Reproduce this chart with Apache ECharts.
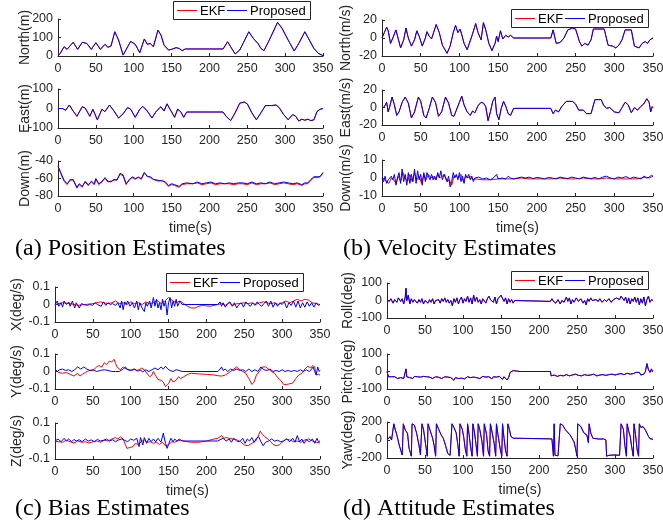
<!DOCTYPE html>
<html>
<head>
<meta charset="utf-8">
<script src="https://cdn.jsdelivr.net/npm/echarts@6/dist/echarts.min.js"></script>
<style>
  html, body { margin: 0; padding: 0; background: #fff; }
  #chart { width: 663px; height: 523px; }
</style>
</head>
<body>
<div id="chart"></div>
<script>
(function() {
  'use strict';

  // === Data: [time(s), value] ===
  var northPos = [[0,0],[3,14],[8,50],[12,36],[20,74],[26,36],[32,74],[38,68],[44,36],[50,72],[56,36],[62,63],[66,47],[70,54],[75,131],[80,86],[86,5],[92,50],[96,79],[102,63],[108,18],[114,92],[118,63],[122,68],[126,50],[132,140],[136,113],[140,59],[146,32],[150,36],[156,45],[160,41],[164,29],[168,38],[218,38],[224,77],[228,50],[234,11],[240,32],[252,131],[258,95],[264,68],[268,41],[272,29],[278,77],[290,182],[296,149],[304,86],[312,27],[318,68],[326,131],[332,86],[338,41],[344,14],[350,2]];
  // EKF and Proposed coincide on this plot
  var northPosEkf = northPos.slice();

  var eastPos = [[0,0],[6,0],[10,-9],[15,18],[20,-13],[25,-40],[32,9],[36,2],[42,-40],[46,-4],[52,-58],[58,-4],[62,-16],[68,18],[74,-13],[80,-49],[86,-27],[92,5],[96,-4],[102,-45],[108,-4],[112,11],[118,-13],[124,-49],[130,-13],[136,9],[140,-13],[144,24],[148,-4],[154,-45],[158,-4],[162,-16],[166,-45],[170,-18],[218,-18],[222,-40],[228,-62],[234,-22],[240,27],[246,33],[250,24],[256,-22],[262,-58],[268,-22],[274,15],[282,15],[288,18],[292,5],[298,-31],[304,-58],[310,-31],[314,-40],[318,-64],[322,-55],[326,-60],[330,-55],[334,-62],[338,-58],[342,-16],[346,-4],[350,0]];
  var eastPosEkf = eastPos.slice();

  var downPos = [[0,-46],[4,-54],[8,-62],[12,-66],[16,-62],[20,-61],[25,-70],[28,-66],[32,-69],[36,-64],[40,-68],[44,-63],[48,-66],[50,-60],[54,-66],[58,-64],[62,-59],[66,-63],[70,-64],[74,-61],[78,-62],[82,-54],[86,-56],[90,-66],[94,-62],[98,-58],[102,-60],[106,-59],[110,-60],[114,-53],[118,-58],[122,-58],[126,-61],[132,-62],[138,-63],[142,-64],[146,-68],[150,-66],[154,-67],[160,-69],[164,-66],[170,-65],[178,-66],[184,-64],[190,-66],[196,-65],[202,-64],[208,-66],[214,-65],[220,-66],[226,-65],[232,-66],[238,-65],[244,-65],[250,-66],[256,-64],[262,-66],[268,-65],[274,-66],[280,-64],[286,-66],[292,-65],[298,-64],[304,-65],[310,-66],[316,-65],[322,-67],[326,-65],[330,-65],[334,-61],[338,-58],[342,-58],[346,-58],[350,-53]];
  var downPosEkf = [[0,-46],[4,-55],[8,-63],[12,-67],[16,-61],[20,-62],[25,-71],[28,-67],[32,-70],[36,-63],[40,-67],[44,-64],[48,-67],[50,-61],[54,-67],[58,-63],[62,-60],[66,-64],[70,-63],[74,-62],[78,-61],[82,-55],[86,-57],[90,-67],[94,-61],[98,-59],[102,-61],[106,-58],[110,-61],[114,-54],[118,-57],[122,-59],[126,-61],[132,-63],[138,-62],[142,-65],[146,-69],[150,-67],[154,-68],[160,-70],[164,-67],[170,-66],[178,-66],[184,-65],[190,-67],[196,-66],[202,-65],[208,-67],[214,-66],[220,-66],[226,-66],[232,-67],[238,-66],[244,-66],[250,-67],[256,-65],[262,-67],[268,-66],[274,-66],[280,-65],[286,-67],[292,-66],[298,-65],[304,-66],[310,-67],[316,-66],[322,-68],[326,-66],[330,-66],[334,-62],[338,-59],[342,-59],[346,-58],[350,-54]];

  var northVel = [[0,0],[3,6],[6,12],[8,8],[11,-6],[14,0],[18,9],[20,8],[24,-11],[28,-2],[31,11],[34,0],[38,-9],[42,-2],[45,8],[48,2],[52,-9],[56,0],[58,7],[61,2],[64,-1],[70,15],[74,6],[78,-8],[84,-17],[88,-9],[92,6],[95,14],[98,6],[101,10],[106,-6],[110,-13],[116,2],[121,16],[124,6],[128,-2],[131,17],[134,9],[138,-6],[142,-14],[146,-6],[148,2],[150,-4],[153,8],[156,-1],[160,3],[163,1],[166,3],[170,0],[218,0],[221,9],[225,-6],[230,-5],[235,0],[240,9],[246,11],[250,10],[255,-4],[258,-9],[262,-6],[266,-8],[270,-2],[273,10],[287,10],[292,-8],[298,-9],[302,-11],[306,-8],[310,-2],[314,9],[322,9],[326,-9],[332,-11],[336,-6],[340,-4],[343,-6],[346,-2],[350,0]];
  var northVelEkf = northVel.slice();

  var eastVel = [[0,-1],[3,1],[6,6],[8,-5],[10,1],[13,12],[16,3],[19,-9],[22,-5],[26,6],[30,12],[34,5],[38,-12],[42,-5],[47,12],[50,7],[54,-9],[57,-12],[61,-1],[65,12],[69,6],[73,-10],[77,-5],[82,12],[86,5],[90,-9],[93,-10],[96,-3],[100,6],[103,13],[106,3],[110,-5],[114,-9],[117,-4],[120,-6],[124,2],[128,6],[131,5],[134,1],[137,-15],[140,-5],[143,7],[146,12],[148,-7],[151,-14],[154,-1],[157,7],[160,1],[163,-7],[166,-9],[170,-1],[218,-1],[221,-7],[224,-3],[228,-5],[232,1],[238,7],[246,7],[250,4],[254,-3],[260,-3],[264,-7],[270,-7],[275,9],[283,9],[286,3],[290,-1],[294,0],[300,-5],[306,-6],[310,0],[314,6],[318,3],[322,-6],[326,0],[330,-3],[334,1],[338,4],[342,10],[345,6],[347,-5],[349,1],[350,0]];
  var eastVelEkf = eastVel.slice();

  var downVel = [[0,0],[2,-2],[4,1],[6,-3],[8,-1],[10,-2],[12,1],[14,-1],[16,2],[18,-4],[20,0],[22,3],[24,-3],[26,5],[28,-2],[30,2],[32,-4],[34,3],[36,-3],[38,2],[40,-2],[42,5],[44,-3],[46,4],[48,-1],[50,2],[52,-4],[54,3],[56,-2],[58,3],[60,2],[62,-1],[64,2],[66,-1],[68,1],[70,-1],[72,3],[74,0],[76,4],[78,-1],[80,2],[82,3],[84,-2],[86,1],[88,-5],[90,-2],[92,3],[94,0],[96,2],[98,-1],[100,3],[102,-2],[104,1],[106,-3],[108,2],[110,0],[112,2],[114,-1],[116,1],[118,-2],[120,0],[125,0.5],[130,-0.5],[135,0],[140,-1],[145,0.5],[148,2],[150,-0.5],[155,0],[160,-0.5],[163,1],[166,0],[170,-0.5],[175,0],[180,0.5],[185,0],[190,0.5],[195,-0.3],[200,0.3],[205,0],[210,-0.5],[215,0.3],[220,0],[225,-0.5],[230,0.5],[235,0],[240,-0.3],[245,0.5],[250,0],[255,-0.5],[260,0.5],[265,0],[270,-0.3],[275,0.3],[280,-0.5],[285,0.5],[290,1],[295,0],[300,-0.5],[305,0.5],[310,0],[315,0.8],[320,-0.3],[325,0.5],[330,0],[335,-0.5],[338,1],[340,2],[342,0],[345,0.5],[348,1.5],[350,1]];
  var downVelEkf = [[0,0],[3,-1],[6,-2],[9,-3],[12,0],[15,-1],[18,-3],[21,1],[24,-2],[27,3],[30,0],[33,-2],[36,2],[39,-2],[42,3],[45,-1],[48,1],[51,-3],[54,2],[57,-1],[60,2],[63,0],[66,1],[69,-1],[72,2],[75,0],[78,1],[81,2],[84,-2],[87,-1],[90,-4],[93,1],[96,1],[99,0],[102,2],[105,-2],[108,1],[111,0],[114,1],[117,-1],[120,-0.5],[130,-1],[140,-1],[150,-0.5],[160,-0.5],[170,-0.5],[180,0],[190,-0.5],[200,-0.5],[210,-0.5],[220,-0.5],[230,0],[240,-0.5],[250,-0.5],[260,0],[270,-0.5],[280,-0.5],[290,0],[300,-0.5],[310,-0.5],[320,-0.5],[330,-0.5],[340,0.5],[345,0],[350,1]];

  var biasX = [[0,0],[3,0.02],[5,-0.01],[8,0.01],[10,-0.015],[12,0.02],[15,0],[18,0.015],[20,-0.01],[23,0.02],[26,-0.02],[28,0.01],[30,0.02],[32,-0.02],[35,0.005],[38,0],[40,0.005],[43,-0.005],[46,0],[50,-0.005],[53,0.01],[56,0],[58,0.01],[61,-0.01],[64,0.015],[67,-0.005],[70,0.01],[73,0],[76,0.005],[80,-0.005],[83,0.01],[86,-0.02],[88,0.02],[90,-0.03],[92,0.015],[94,0],[96,0.02],[99,-0.01],[102,0.01],[105,-0.02],[108,0.02],[110,-0.03],[112,0.01],[115,-0.02],[118,-0.04],[120,0.01],[122,-0.01],[125,0.02],[127,-0.02],[130,0.04],[132,-0.01],[134,0.03],[136,-0.02],[138,0.01],[140,-0.03],[142,0.03],[144,-0.01],[146,0.02],[148,-0.06],[150,0.01],[152,0.04],[154,-0.02],[156,0.02],[158,-0.01],[160,0.03],[162,-0.01],[165,0.02],[168,0],[215,0],[218,0.015],[220,-0.01],[222,0.01],[225,-0.015],[228,0.005],[231,0.015],[234,-0.01],[237,0.01],[240,-0.02],[243,0],[246,0.01],[249,-0.015],[252,0.015],[255,0],[258,-0.01],[261,0.01],[264,-0.005],[267,0.015],[270,0],[273,-0.01],[276,0.005],[279,0.02],[282,-0.01],[285,0.02],[288,-0.015],[291,0.01],[294,-0.01],[297,0.01],[300,0],[303,0.015],[306,-0.02],[309,0.01],[312,-0.005],[315,0.02],[318,-0.015],[321,0.02],[324,-0.02],[327,0.01],[330,-0.015],[333,0.015],[336,-0.01],[339,0.01],[342,-0.015],[345,0.01],[348,-0.005],[350,0]];
  var biasXEkf = [[0,0],[10,0.01],[20,0.005],[30,-0.005],[40,0],[50,0.005],[60,0.015],[65,0.01],[70,0.005],[75,0.01],[80,0.02],[85,0.005],[90,0.01],[95,0],[100,0.015],[105,0.005],[110,0.01],[115,0],[120,0.015],[125,0.005],[130,0.01],[135,0.025],[140,0.005],[145,0.02],[150,0.04],[153,0.03],[156,0.02],[160,0.01],[165,0.02],[170,0.005],[175,-0.01],[180,-0.02],[185,-0.02],[190,-0.01],[195,-0.005],[200,-0.008],[205,-0.01],[210,-0.005],[215,0],[220,0.005],[225,-0.005],[230,0.01],[235,-0.005],[240,0.005],[245,0.005],[250,0.01],[255,0.005],[260,0.01],[265,0],[270,0.01],[275,0.015],[280,0.01],[285,0.005],[290,0.01],[295,0],[300,0.01],[305,0.02],[310,0.01],[315,0.02],[320,0.03],[325,0.02],[330,0.03],[335,0.025],[340,0.01],[345,0.005],[350,0]];

  var biasY = [[0,0.014],[3,0],[6,0.01],[10,0.014],[14,0.006],[18,0.01],[22,0],[26,0.01],[30,0.026],[34,0.014],[38,0.026],[42,0.014],[46,0.006],[50,0.01],[55,0],[60,0.006],[65,0.01],[70,0.006],[75,0],[80,0],[85,0],[90,0.014],[93,0.026],[96,0.01],[100,0.006],[104,0.014],[108,0.006],[112,0.01],[116,-0.002],[120,0.01],[124,0],[128,0.01],[132,0.02],[136,0.01],[140,0.026],[143,0.014],[146,0.03],[149,0.014],[152,0.006],[156,0],[160,0.01],[164,0.006],[168,0],[215,0],[218,0.014],[220,0.026],[222,0.006],[225,0.014],[228,0],[232,0.014],[236,0.006],[240,0.014],[244,0.006],[248,0.01],[252,0],[256,0.014],[260,0],[264,0.01],[268,0],[272,0.026],[276,0.01],[280,0.006],[284,0.014],[288,0],[292,0.006],[296,0],[300,0.01],[304,0],[308,0.006],[312,0],[316,0.006],[320,0],[324,0.01],[328,0],[332,0.01],[336,0],[339,0.014],[341,0.026],[343,0],[345,-0.02],[347,0.026],[349,0],[350,0.006]];
  var biasYEkf = [[0,0.01],[5,-0.006],[10,-0.01],[15,-0.006],[20,-0.016],[25,-0.026],[30,-0.01],[33,-0.026],[36,-0.016],[40,-0.006],[45,0.006],[50,0.006],[55,0.026],[58,0.034],[62,0.026],[65,0.05],[68,0.04],[72,0.06],[75,0.054],[78,0.07],[80,0.046],[82,0.026],[86,0.01],[90,0.026],[94,0.014],[98,0.01],[102,0.006],[105,0.014],[110,0],[114,0.02],[118,0.01],[122,-0.014],[125,-0.03],[128,-0.02],[130,0],[132,-0.016],[136,-0.046],[140,-0.05],[143,-0.06],[146,-0.086],[150,-0.07],[153,-0.04],[156,-0.06],[160,-0.05],[163,-0.03],[166,-0.04],[170,-0.03],[175,-0.016],[180,-0.01],[190,-0.014],[200,-0.016],[210,-0.02],[215,-0.024],[220,-0.026],[225,-0.02],[230,-0.006],[235,0.01],[240,0.026],[244,0.01],[248,0],[252,-0.01],[256,-0.04],[260,-0.074],[263,-0.06],[266,-0.02],[270,0],[274,0.026],[278,0.026],[282,0.014],[286,0],[290,-0.01],[294,-0.034],[298,-0.05],[302,-0.074],[306,-0.074],[310,-0.07],[314,-0.066],[318,-0.04],[322,-0.02],[326,-0.01],[330,0.014],[334,0.03],[338,0.02],[340,0.034],[343,0.026],[345,-0.02],[348,-0.016],[350,-0.02]];

  var biasZ = [[0,0],[4,0.011],[8,-0.004],[12,0.015],[15,0],[18,0.011],[22,-0.004],[25,0.009],[28,0],[32,0.007],[36,-0.004],[40,0.011],[44,0],[48,0.006],[52,-0.004],[56,0.009],[60,0],[64,0.004],[68,0.011],[72,0],[76,0.007],[80,-0.004],[84,0.006],[88,0.011],[92,0.004],[96,-0.004],[100,0.011],[104,0.004],[108,0.015],[111,-0.031],[113,0.019],[116,-0.022],[118,0.019],[121,-0.013],[124,0.015],[127,-0.004],[130,0.011],[133,-0.004],[136,0.015],[140,-0.007],[143,0.043],[146,-0.013],[148,-0.041],[150,-0.019],[153,0.015],[156,-0.004],[158,0.011],[161,0],[164,0.011],[168,0],[215,0],[218,0.007],[222,0.015],[226,0],[230,0.011],[233,-0.007],[236,0.015],[240,0],[244,-0.004],[248,0.015],[251,-0.013],[254,0.011],[257,0],[260,0.019],[263,-0.007],[266,0.015],[269,0.024],[272,-0.004],[275,-0.026],[278,-0.007],[282,0],[286,0.011],[290,0],[294,0.004],[298,-0.004],[302,0],[306,0.011],[310,-0.004],[314,0.015],[317,-0.007],[320,0.03],[323,-0.004],[326,0.011],[329,-0.013],[332,0.006],[336,-0.004],[340,0.011],[343,-0.013],[346,0.015],[348,-0.004],[350,0]];
  var biasZEkf = [[0,0],[5,-0.004],[10,-0.007],[15,0.004],[20,-0.004],[25,-0.011],[30,0],[35,-0.007],[40,-0.004],[45,-0.011],[50,-0.004],[55,0],[60,-0.007],[65,0.004],[70,0],[75,0.011],[80,0.019],[83,0.011],[86,0.024],[90,0.011],[95,-0.041],[98,-0.037],[100,-0.026],[103,-0.031],[106,-0.013],[110,-0.019],[114,-0.004],[118,0.006],[122,-0.007],[126,-0.004],[130,-0.013],[134,-0.007],[138,-0.019],[142,-0.007],[146,-0.026],[150,-0.022],[154,-0.004],[158,-0.007],[162,0],[166,0.004],[170,0],[175,-0.004],[180,-0.007],[190,-0.007],[200,0],[210,0.011],[215,0.015],[220,0.03],[223,0.015],[226,0.019],[230,0.015],[235,0.011],[240,0.007],[245,-0.004],[250,-0.022],[255,-0.026],[260,-0.013],[265,0],[268,0.024],[271,0.055],[274,0.037],[277,0.024],[280,0.015],[285,-0.004],[288,-0.019],[292,-0.026],[296,-0.022],[300,-0.007],[305,0.011],[310,0.006],[315,-0.004],[320,0],[325,-0.007],[330,0.006],[335,0.011],[340,0],[345,-0.007],[350,-0.011]];

  var roll = [[0,5],[3,-5],[5,10],[8,-15],[10,5],[13,-10],[15,15],[18,-5],[20,10],[22,-20],[24,20],[25,70],[26,0],[28,30],[30,-20],[32,10],[34,-10],[36,5],[38,15],[40,-15],[42,5],[44,-10],[46,10],[48,-20],[50,0],[52,10],[54,-15],[56,5],[58,-10],[60,10],[62,-20],[64,0],[66,-10],[68,5],[70,-15],[72,10],[74,-5],[76,15],[78,-10],[80,5],[82,-15],[84,0],[86,-30],[88,10],[90,-10],[92,15],[94,-20],[96,5],[98,20],[100,-15],[102,10],[104,-5],[106,25],[108,-10],[110,15],[112,-20],[114,30],[116,-5],[118,20],[120,-10],[122,5],[124,-20],[126,10],[128,0],[130,-15],[132,10],[134,25],[136,5],[138,15],[140,-10],[142,20],[144,-20],[146,10],[148,5],[150,30],[152,20],[154,-5],[156,15],[158,-20],[160,10],[162,-10],[164,5],[166,-15],[168,0],[170,-5],[215,-5],[217,10],[219,-5],[222,-15],[225,5],[228,-20],[230,0],[233,-10],[236,20],[238,-5],[240,15],[242,-20],[244,5],[246,-10],[249,15],[252,-5],[255,10],[258,-15],[260,0],[262,-25],[264,10],[266,-5],[268,15],[270,0],[272,-10],[275,5],[278,-5],[280,10],[283,-10],[286,5],[289,-5],[292,10],[295,-10],[298,5],[300,5],[302,15],[304,10],[306,5],[308,25],[310,15],[312,0],[314,20],[316,-15],[318,15],[320,-20],[322,10],[324,-5],[326,20],[328,-10],[330,15],[332,-25],[334,10],[336,-15],[338,20],[340,-30],[342,5],[344,25],[346,-10],[348,5],[350,0]];
  var rollEkf = roll.slice();

  var pitch = [[0,0],[2,-30],[4,-35],[6,-30],[8,-40],[10,-30],[12,-35],[14,-40],[16,-30],[18,-35],[20,-25],[22,-40],[24,-30],[25,15],[26,-30],[28,-40],[30,-35],[32,-30],[34,-40],[36,-28],[38,-35],[40,-30],[42,-38],[44,-32],[46,-40],[48,-28],[50,-35],[52,-30],[54,-38],[56,-32],[58,-28],[60,-40],[62,-35],[64,-30],[66,-38],[68,-33],[70,-28],[72,-40],[74,-35],[76,-30],[78,-38],[80,-32],[82,-40],[84,-35],[86,-30],[88,-50],[90,-35],[92,-30],[94,-40],[96,-35],[98,-38],[100,-30],[102,-42],[104,-35],[106,-30],[108,-40],[110,-35],[112,-45],[114,-32],[116,-38],[118,-35],[120,-30],[122,-40],[124,-35],[126,-28],[128,-38],[130,-32],[132,-40],[134,-30],[136,-35],[138,-42],[140,-30],[142,-38],[144,-32],[146,-40],[148,-28],[150,-35],[152,-45],[154,-30],[156,-38],[158,-48],[160,-35],[162,-5],[164,0],[166,5],[168,12],[170,3],[175,0],[215,0],[216,-25],[218,-30],[220,-20],[224,-28],[228,-22],[232,-25],[236,-18],[240,-25],[244,-20],[248,-15],[252,-22],[256,-25],[260,-18],[264,-22],[268,-20],[272,-15],[276,-25],[280,-20],[284,-18],[288,-22],[292,-18],[296,-15],[300,-20],[304,-15],[308,-12],[312,-18],[316,-10],[320,-15],[324,-12],[328,-5],[330,-15],[332,-5],[334,-20],[336,-10],[338,-15],[340,0],[342,45],[344,10],[346,-5],[348,15],[349,0],[350,5]];
  var pitchEkf = pitch.slice();

  var yaw = [[0,0],[2,-18],[4,37],[6,0],[8,-20],[9,180],[11,111],[13,55],[16,-55],[18,-74],[20,-166],[21,-180],[21.5,180],[24,111],[27,74],[29,-92],[31,-150],[32,-180],[33,180],[36,166],[39,74],[42,-55],[44,-166],[45,-180],[46,180],[48,120],[50,0],[52,-120],[53,-180],[54,180],[57,100],[60,20],[62,-60],[64,-180],[65,180],[68,120],[71,60],[74,20],[77,-60],[80,-150],[83,-170],[85,-180],[85.5,180],[88,140],[91,80],[93,-40],[95,-180],[96,180],[99,120],[101,30],[103,-100],[105,-180],[106,180],[108,60],[110,-80],[112,-180],[113,180],[115,90],[117,-40],[119,-180],[120,180],[122,120],[125,-20],[127,-180],[128,180],[131,60],[133,-120],[135,-180],[136,180],[138,100],[141,-40],[143,-180],[144,180],[146,60],[149,-100],[151,-180],[152,180],[154,20],[156,-120],[158,-180],[159,180],[161,120],[163,40],[166,20],[180,18],[200,15],[217,12],[219,-180],[220,180],[221,-170],[225,-175],[227,-180],[228,180],[231,166],[235,111],[241,55],[246,-18],[248,-90],[250,-180],[251,180],[255,150],[259,80],[263,55],[265,-30],[266,180],[268,80],[271,18],[275,15],[280,10],[285,12],[288,0],[289,-180],[292,-170],[300,-166],[306,-170],[307,-180],[308,180],[311,120],[313,-60],[315,-180],[316,180],[318,100],[320,40],[322,-80],[324,-180],[325,180],[327,60],[329,-100],[331,-180],[332,180],[334,140],[337,148],[340,111],[344,40],[346,15],[348,10],[350,8]];
  var yawEkf = yaw.slice();

  var SERIES_NAMES = ['EKF', 'Proposed'];
  var CAPTIONS = ['(a) Position Estimates', '(b) Velocity Estimates', '(c) Bias Estimates', '(d) Attitude Estimates'];

  // === Layout / style ===
  var SANS = '"Liberation Sans", Arial, Helvetica, sans-serif';
  var SERIF = '"Liberation Serif", "Times New Roman", serif';
  var AXIS_COLOR = '#262626';
  var RED = '#ff0000';
  var BLUE = '#0000ff';
  var SERIES_COLORS = [RED, BLUE];

  // one entry per subplot
  var PANELS = [
    { left: 58,  width: 265, top: 19,  height: 37, label: 'North(m)',   min: 0,    max: 200, step: 100, gap: 26, ekf: northPosEkf, prop: northPos },
    { left: 58,  width: 265, top: 89,  height: 39, label: 'East(m)',    min: -100, max: 100, step: 100, gap: 26, ekf: eastPosEkf,  prop: eastPos },
    { left: 58,  width: 265, top: 161, height: 35, label: 'Down(m)',    min: -80,  max: -40, step: 20,  gap: 26, ekf: downPosEkf,  prop: downPos, xName: true },
    { left: 382, width: 271, top: 20,  height: 36, label: 'North(m/s)', min: -20,  max: 20,  step: 20,  gap: 29, ekf: northVelEkf, prop: northVel },
    { left: 382, width: 271, top: 90,  height: 35, label: 'East(m/s)',  min: -20,  max: 20,  step: 20,  gap: 29, ekf: eastVelEkf,  prop: eastVel },
    { left: 382, width: 271, top: 160, height: 36, label: 'Down(m/s)',  min: -10,  max: 10,  step: 10,  gap: 29, ekf: downVelEkf,  prop: downVel, xName: true },
    { left: 55,  width: 265, top: 287, height: 35, label: 'X(deg/s)',   min: -0.1, max: 0.1, step: 0.1, gap: 31, ekf: biasXEkf,    prop: biasX },
    { left: 55,  width: 265, top: 354, height: 35, label: 'Y(deg/s)',   min: -0.1, max: 0.1, step: 0.1, gap: 31, ekf: biasYEkf,    prop: biasY },
    { left: 55,  width: 265, top: 423, height: 36, label: 'Z(deg/s)',   min: -0.1, max: 0.1, step: 0.1, gap: 31, ekf: biasZEkf,    prop: biasZ, xName: true },
    { left: 387, width: 266, top: 283, height: 35, label: 'Roll(deg)',  min: -100, max: 100, step: 100, gap: 32, ekf: rollEkf,     prop: roll },
    { left: 387, width: 266, top: 354, height: 35, label: 'Pitch(deg)', min: -100, max: 100, step: 100, gap: 32, ekf: pitchEkf,    prop: pitch },
    { left: 387, width: 266, top: 422, height: 36, label: 'Yaw(deg)',   min: -200, max: 200, step: 200, gap: 32, ekf: yawEkf,      prop: yaw, xName: true }
  ];

  // legend boxes (MATLAB style: line sample + name, thin frame)
  var LEGEND_BOXES = [
    { x: 173, y: 1,   w: 137, h: 18 },
    { x: 511, y: 9,   w: 137, h: 18 },
    { x: 166, y: 273, w: 137, h: 18 },
    { x: 511, y: 271, w: 137, h: 18 }
  ];
  var LEGEND_ITEM_X = [4, 54];      // line start of each entry, relative to box
  var LEGEND_LINE_W = 20;

  var CAPTION_POS = [
    { left: 15,  top: 237 },
    { left: 343, top: 237 },
    { left: 15,  top: 497 },
    { left: 343, top: 497 }
  ];

  var grids = [], xAxes = [], yAxes = [], series = [];

  PANELS.forEach(function(p, i) {
    grids.push({ left: p.left, top: p.top, width: p.width, height: p.height, outerBoundsMode: 'none', containLabel: false });

    xAxes.push({
      type: 'value', gridIndex: i, min: 0, max: 350, interval: 50,
      axisLine: { show: true, onZero: false, lineStyle: { color: AXIS_COLOR, width: 1 } },
      axisTick: { show: true, inside: true, length: 3, lineStyle: { color: AXIS_COLOR } },
      splitLine: { show: false },
      axisLabel: { fontSize: 12.5, color: AXIS_COLOR, fontFamily: SANS, margin: 6 },
      name: p.xName ? 'time(s)' : '',
      nameLocation: 'middle', nameGap: 25, nameMoveOverlap: false,
      nameTextStyle: { fontSize: 14, color: AXIS_COLOR, fontFamily: SANS }
    });

    yAxes.push({
      type: 'value', gridIndex: i, min: p.min, max: p.max, interval: p.step,
      axisLine: { show: true, onZero: false, lineStyle: { color: AXIS_COLOR, width: 1 } },
      axisTick: { show: true, inside: true, length: 3, lineStyle: { color: AXIS_COLOR } },
      splitLine: { show: false },
      axisLabel: { fontSize: 12.5, color: AXIS_COLOR, fontFamily: SANS, margin: 5 },
      name: p.label, nameLocation: 'middle', nameGap: p.gap, nameMoveOverlap: false,
      nameTextStyle: { fontSize: 14, color: AXIS_COLOR, fontFamily: SANS }
    });

    [p.ekf, p.prop].forEach(function(d, k) {
      series.push({
        name: SERIES_NAMES[k], type: 'line', xAxisIndex: i, yAxisIndex: i,
        data: d, symbol: 'none',
        lineStyle: { color: SERIES_COLORS[k], width: 1 },
        itemStyle: { color: SERIES_COLORS[k] }
      });
    });
  });

  // --- legend frames drawn as graphics ---
  var graphics = LEGEND_BOXES.map(function(b) {
    var children = [{
      type: 'rect',
      shape: { x: 0.5, y: 0.5, width: b.w, height: b.h },
      style: { fill: '#fff', stroke: AXIS_COLOR, lineWidth: 1 }
    }];
    SERIES_NAMES.forEach(function(n, k) {
      var x0 = LEGEND_ITEM_X[k];
      children.push({
        type: 'line',
        shape: { x1: x0, y1: b.h / 2 + 0.5, x2: x0 + LEGEND_LINE_W, y2: b.h / 2 + 0.5 },
        style: { stroke: SERIES_COLORS[k], lineWidth: 1 }
      });
      children.push({
        type: 'text',
        x: x0 + LEGEND_LINE_W + 3, y: b.h / 2 + 1,
        style: { text: n, fill: '#000', font: '13px ' + SANS, verticalAlign: 'middle', align: 'left' }
      });
    });
    return { type: 'group', left: b.x, top: b.y, z: 100, children: children };
  });

  var titles = CAPTIONS.map(function(c, i) {
    return {
      text: c, left: CAPTION_POS[i].left, top: CAPTION_POS[i].top, padding: 0,
      textStyle: { fontFamily: SERIF, fontSize: 24, fontWeight: 'normal', color: '#000' }
    };
  });

  var chart = echarts.init(document.getElementById('chart'), null, { renderer: 'canvas' });
  chart.setOption({
    animation: false,
    backgroundColor: '#fff',
    title: titles,
    grid: grids,
    xAxis: xAxes,
    yAxis: yAxes,
    series: series,
    graphic: graphics
  });
})();
</script>
</body>
</html>
